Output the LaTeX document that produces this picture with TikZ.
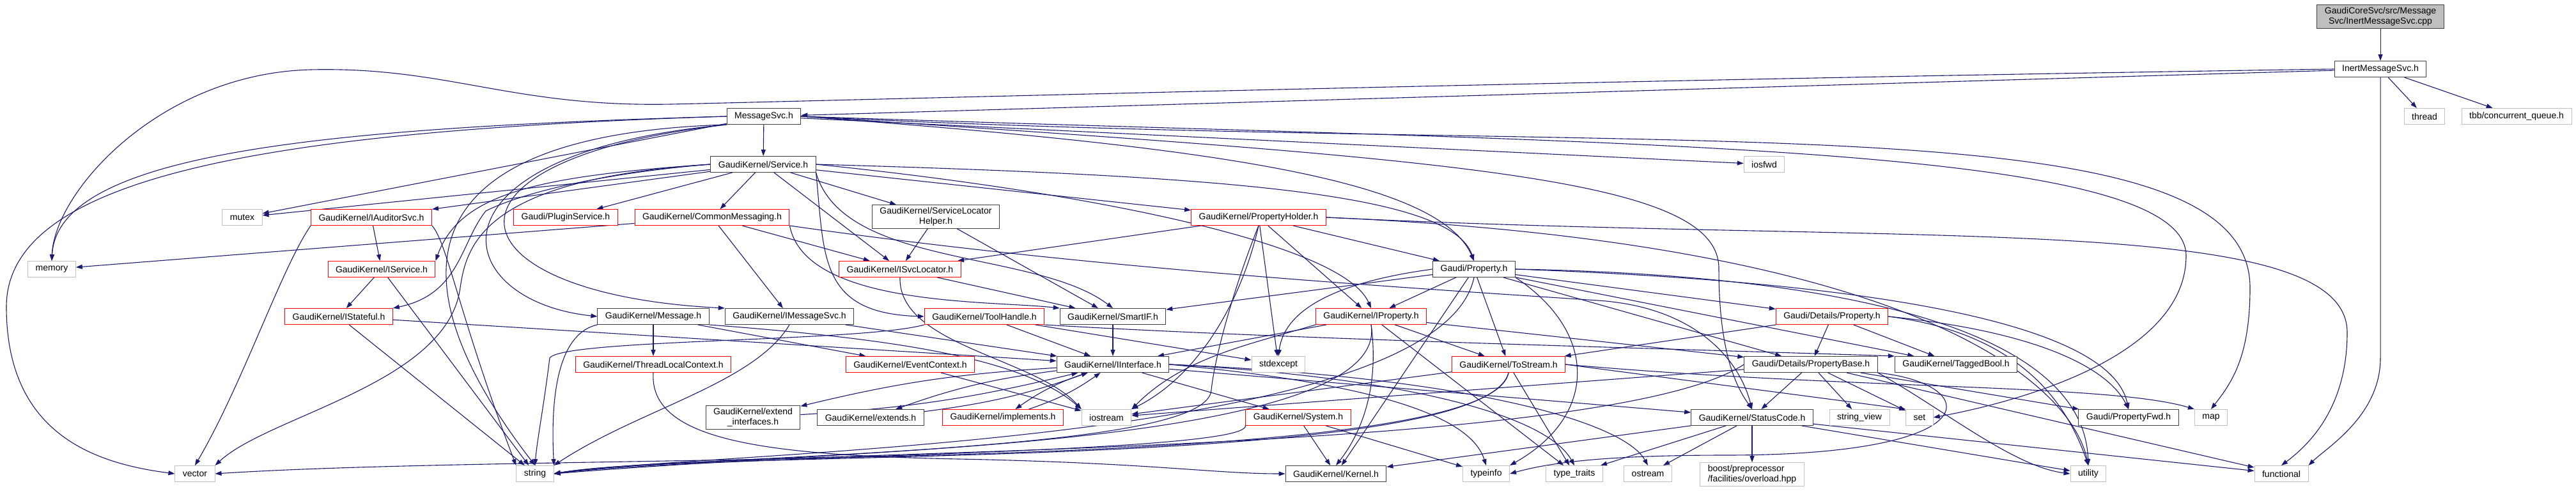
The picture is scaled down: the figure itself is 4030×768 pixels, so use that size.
\documentclass[tikz,border=0pt]{standalone}
\usepackage{fontspec}
\setmainfont{Liberation Sans}
\usetikzlibrary{arrows.meta,backgrounds}
\definecolor{dxblue}{HTML}{191970}
\definecolor{dxline}{HTML}{404040}
\definecolor{dxred}{HTML}{FF0000}
\definecolor{dxgray}{HTML}{BFBFBF}
\tikzset{
  hdr/.style={rectangle, draw=dxline, fill=white, line width=1pt, inner xsep=12pt, inner ysep=4pt,
    minimum height=25pt, font=\fontsize{14}{15.5}\selectfont, align=center},
  hdrtrunc/.style={hdr, draw=dxred},
  hdrsys/.style={hdr, draw=dxgray},
  hdrtop/.style={hdr, fill=dxgray},
  dep/.style={draw=dxblue, line width=1.1pt, -{Triangle[length=10pt,width=7pt]}},
}
\begin{document}
\begin{tikzpicture}[x=1pt,y=-1pt]
\useasboundingbox (0,0) rectangle (4030,768);
% top
\node[hdrtop] (cpp) at (3724,26) {GaudiCoreSvc/src/Message\\Svc/InertMessageSvc.cpp};
\node[hdr] (inert) at (3724,108) {InertMessageSvc.h};
\node[hdrsys] (thread) at (3793,182) {thread};
\node[hdrsys] (tbb) at (3937,182) {tbb/concurrent\_queue.h};
\node[hdr] (msgsvc) at (1195,182) {MessageSvc.h};
\node[hdr] (service) at (1194,257) {GaudiKernel/Service.h};
\node[hdrsys] (iosfwd) at (2760,257) {iosfwd};
% rank 4
\node[hdrsys] (mutex) at (379,340) {mutex};
\node[hdrtrunc] (iauditor) at (581,340) {GaudiKernel/IAuditorSvc.h};
\node[hdrtrunc] (plugin) at (885,340) {Gaudi/PluginService.h};
\node[hdrtrunc] (commonmsg) at (1114,340) {GaudiKernel/CommonMessaging.h};
\node[hdr] (svchelper) at (1464,339) {GaudiKernel/ServiceLocator\\Helper.h};
\node[hdrtrunc] (propholder) at (1969,340) {GaudiKernel/PropertyHolder.h};
% rank 5
\node[hdrsys] (memory) at (81,421) {memory};
\node[hdrtrunc] (iservice) at (597,421) {GaudiKernel/IService.h};
\node[hdrtrunc] (isvcloc) at (1408,421) {GaudiKernel/ISvcLocator.h};
\node[hdr] (prop) at (2306,421) {Gaudi/Property.h};
% rank 6
\node[hdrtrunc] (istateful) at (530,495) {GaudiKernel/IStateful.h};
\node[hdr] (message) at (1022,495) {GaudiKernel/Message.h};
\node[hdr] (imsgsvc) at (1235,495) {GaudiKernel/IMessageSvc.h};
\node[hdrtrunc] (toolhandle) at (1540,495) {GaudiKernel/ToolHandle.h};
\node[hdr] (smartif) at (1741,495) {GaudiKernel/SmartIF.h};
\node[hdrtrunc] (iproperty) at (2145,495) {GaudiKernel/IProperty.h};
\node[hdrtrunc] (detprop) at (2866,495) {Gaudi/Details/Property.h};
% rank 7
\node[hdrtrunc] (tlc) at (1022,570) {GaudiKernel/ThreadLocalContext.h};
\node[hdrtrunc] (evtctx) at (1424,570) {GaudiKernel/EventContext.h};
\node[hdr] (iinterface) at (1741,570) {GaudiKernel/IInterface.h};
\node[hdrsys] (stdexcept) at (2000,570) {stdexcept};
\node[hdrtrunc] (tostream) at (2360,570) {GaudiKernel/ToStream.h};
\node[hdr] (propbase) at (2833,570) {Gaudi/Details/PropertyBase.h};
\node[hdr] (taggedbool) at (3060,570) {GaudiKernel/TaggedBool.h};
% rank 8
\node[hdr] (extendif) at (1178,653) {GaudiKernel/extend\\\_interfaces.h};
\node[hdr] (extends) at (1362,653) {GaudiKernel/extends.h};
\node[hdrtrunc] (implements) at (1569,653) {GaudiKernel/implements.h};
\node[hdrsys] (iostream) at (1731,653) {iostream};
\node[hdrtrunc] (system) at (2031,653) {GaudiKernel/System.h};
\node[hdr] (statuscode) at (2741,653) {GaudiKernel/StatusCode.h};
\node[hdrsys] (stringview) at (2909,653) {string\_view};
\node[hdrsys] (set) at (3003,653) {set};
\node[hdr] (propfwd) at (3330,653) {Gaudi/PropertyFwd.h};
\node[hdrsys] (map) at (3459,653) {map};
% bottom
\node[hdrsys] (vector) at (305,741) {vector};
\node[hdrsys] (string) at (837,741) {string};
\node[hdr] (kernel) at (2090,741) {GaudiKernel/Kernel.h};
\node[hdrsys] (typeinfo) at (2325,741) {typeinfo};
\node[hdrsys] (typetraits) at (2463,741) {type\_traits};
\node[hdrsys] (ostream) at (2578,741) {ostream};
\node[hdrsys, align=left] (boost) at (2741,742) {boost/preprocessor\\/facilities/overload.hpp};
\node[hdrsys] (utility) at (3267,741) {utility};
\node[hdrsys] (functional) at (3569,741) {functional};

\begin{scope}[on background layer]
\draw[dep] (cpp) -- (inert);
\draw[dep] (inert) -- (thread);
\draw[dep] (inert) -- (tbb);
\draw[dep] (inert.south) -- (3724,560) .. controls (3724,650) and (3640,700) .. (functional.north east);
\draw[dep] (inert) -- (msgsvc);
\draw[dep] (inert.west) .. controls (2500,125) and (1400,155) .. (1050,163) .. controls (800,168) and (700,104) .. (486,109) .. controls (250,115) and (85,300) .. (memory.north);
% MessageSvc.h
\draw[dep] (msgsvc) -- (service);
\draw[dep] (msgsvc) -- (iosfwd);
\draw[dep] (msgsvc) -- (mutex);
\draw[dep] (msgsvc.west) .. controls (500,200) and (90,240) .. (memory.north);
\draw[dep] (msgsvc.west) .. controls (400,205) and (10,280) .. (10,480) .. controls (10,680) and (150,725) .. (vector.west);
\draw[dep] (msgsvc.south west) .. controls (650,210) and (600,420) .. (string.north);
\draw[dep] (msgsvc.south west) .. controls (650,240) and (700,470) .. (message.west);
\draw[dep] (msgsvc.south west) .. controls (650,250) and (700,460) .. (imsgsvc.north west);
\draw[dep] (msgsvc.east) .. controls (1900,230) and (2250,280) .. (prop.north);
\draw[dep] (msgsvc.east) .. controls (2600,250) and (3520,150) .. (3520,450) .. controls (3520,560) and (3490,600) .. (map.north);
\draw[dep] (msgsvc.east) .. controls (2500,225) and (3420,220) .. (3420,400) .. controls (3420,560) and (3150,630) .. (set.east);
\draw[dep] (msgsvc.east) .. controls (2300,250) and (2689,280) .. (2689,420) .. controls (2689,560) and (2720,610) .. (statuscode.north);
% Service.h
\draw[dep] (service) -- (mutex);
\draw[dep] (service) -- (iauditor);
\draw[dep] (service) -- (plugin);
\draw[dep] (service) -- (commonmsg);
\draw[dep] (service) -- (svchelper);
\draw[dep] (service) -- (propholder);
\draw[dep] (service) -- (isvcloc);
\draw[dep] (service.south east) .. controls (1320,420) and (1620,390) .. (smartif.north);
\draw[dep] (service.south east) .. controls (1290,400) and (1280,490) .. (toolhandle.west);
\draw[dep] (service.east) .. controls (1700,300) and (2100,380) .. (iproperty.north);
\draw[dep] (service.east) .. controls (1900,275) and (2270,300) .. (prop.north);
\draw[dep] (service.west) .. controls (850,275) and (720,300) .. (iservice.north east);
\draw[dep] (service.west) .. controls (950,270) and (820,300) .. (760,330) .. controls (720,380) and (720,460) .. (istateful.north east);
\draw[dep] (service.west) .. controls (760,280) and (730,380) .. (720,450) .. controls (700,600) and (420,650) .. (vector.north east);
% CommonMessaging.h
\draw[dep] (commonmsg) -- (memory);
\draw[dep] (commonmsg) -- (imsgsvc);
\draw[dep] (commonmsg) -- (isvcloc);
\draw[dep] (commonmsg.south east) .. controls (1260,480) and (1550,470) .. (smartif.north west);
\draw[dep] (commonmsg.south east) .. controls (1700,420) and (2200,450) .. (2500,470) .. controls (2650,480) and (2720,560) .. (statuscode.north);
\draw[dep] (iauditor) -- (iservice);
\draw[dep] (iauditor.south east) .. controls (700,380) and (720,500) .. (string.north west);
\draw[dep] (iauditor.south west) .. controls (440,420) and (380,600) .. (vector.north);
\draw[dep] (svchelper) -- (isvcloc);
\draw[dep] (svchelper) -- (smartif);
% PropertyHolder.h
\draw[dep] (propholder) -- (prop);
\draw[dep] (propholder) -- (iproperty);
\draw[dep] (propholder) -- (isvcloc);
\draw[dep] (propholder) -- (stdexcept);
\draw[dep] (propholder.south) .. controls (1940,480) and (1870,590) .. (iostream.north east);
\draw[dep] (propholder.south) .. controls (1930,450) and (1900,560) .. (1895,610) .. controls (1890,700) and (1300,705) .. (string.east);
\draw[dep] (propholder.east) .. controls (3000,380) and (3240,600) .. (utility.north);
\draw[dep] (propholder.east) .. controls (3000,385) and (3672,330) .. (3672,520) .. controls (3672,630) and (3620,690) .. (functional.north);
\draw[dep] (iservice) -- (istateful);
\draw[dep] (iservice) -- (string);
\draw[dep] (istateful) -- (iinterface);
\draw[dep] (istateful) -- (string);
\draw[dep] (isvcloc) -- (smartif);
\draw[dep] (isvcloc.south) .. controls (1405,540) and (1620,560) .. (iostream.north west);
% Gaudi/Property.h
\draw[dep] (prop) -- (detprop);
\draw[dep] (prop) -- (propbase);
\draw[dep] (prop) -- (iproperty);
\draw[dep] (prop) -- (smartif);
\draw[dep] (prop) -- (taggedbool);
\draw[dep] (prop) -- (tostream);
\draw[dep] (prop) -- (kernel);
\draw[dep] (prop.east) .. controls (2900,440) and (3300,500) .. (propfwd.north);
\draw[dep] (prop.west) .. controls (2100,440) and (2010,480) .. (stdexcept.north);
\draw[dep] (prop.south east) .. controls (2500,520) and (2500,650) .. (typeinfo.north east);
\draw[dep] (prop.east) .. controls (2900,430) and (3260,520) .. (utility.north);
\draw[dep] (prop.south) .. controls (2250,700) and (1100,705) .. (string.east);
\draw[dep] (message) -- (tlc);
\draw[dep] (message) -- (evtctx);
\draw[dep] (message.south east) .. controls (1400,530) and (1600,560) .. (iostream.north west);
\draw[dep] (message.south west) .. controls (880,520) and (860,600) .. (string.north east);
\draw[dep] (imsgsvc) -- (iinterface);
\draw[dep] (imsgsvc.south) .. controls (1180,600) and (1000,640) .. (string.north east);
\draw[dep] (toolhandle) -- (stdexcept);
\draw[dep] (toolhandle) -- (iinterface);
\draw[dep] (toolhandle.south east) .. controls (2000,530) and (2600,545) .. (taggedbool.north west);
\draw[dep] (toolhandle.south west) .. controls (1350,535) and (880,530) .. (860,560) .. controls (850,640) and (840,690) .. (string.north);
\draw[dep] (smartif) -- (iinterface);
% IProperty.h
\draw[dep] (iproperty) -- (iinterface);
\draw[dep] (iproperty) -- (tostream);
\draw[dep] (iproperty) -- (propbase);
\draw[dep] (iproperty) -- (typetraits);
\draw[dep] (iproperty.south) .. controls (2160,620) and (2120,690) .. (kernel.north);
\draw[dep] (iproperty.south west) .. controls (1950,540) and (1850,560) .. (iostream.north east);
\draw[dep] (iproperty.south) .. controls (2180,720) and (1100,705) .. (string.east);
\draw[dep] (detprop) -- (propbase);
\draw[dep] (detprop) -- (taggedbool);
\draw[dep] (detprop) -- (tostream);
\draw[dep] (detprop.east) .. controls (3200,520) and (3300,580) .. (propfwd.north);
\draw[dep] (detprop.east) .. controls (3150,520) and (3230,620) .. (utility.north);
\draw[dep] (tlc.south) .. controls (1015,690) and (1200,712) .. (1500,718) .. controls (1800,724) and (1900,741) .. (kernel.west);
\draw[dep] (evtctx) -- (iostream);
% IInterface.h
\draw[dep] (iinterface) to[bend right=5] (extendif);
\draw[dep] (extendif) to[bend right=5] (iinterface);
\draw[dep] (iinterface) to[bend right=6] (extends);
\draw[dep] (extends) to[bend right=6] (iinterface);
\draw[dep] (iinterface) to[bend right=8] (implements);
\draw[dep] (implements) to[bend right=8] (iinterface);
\draw[dep] (iinterface) -- (system);
\draw[dep] (iinterface) -- (statuscode);
\draw[dep] (iinterface.east) .. controls (2150,600) and (2300,650) .. (typeinfo.north);
\draw[dep] (iinterface.east) .. controls (2200,590) and (2420,650) .. (typetraits.north);
\draw[dep] (iinterface.east) .. controls (2300,590) and (2540,660) .. (ostream.north);
% ToStream.h
\draw[dep] (tostream) -- (iostream);
\draw[dep] (tostream) -- (typetraits);
\draw[dep] (tostream.east) .. controls (2900,610) and (3300,600) .. (map.north west);
\draw[dep] (tostream.east) -- (set.north west);
\draw[dep] (tostream.south) .. controls (2320,740) and (1100,700) .. (string.east);
\draw[dep] (tostream.south) .. controls (2330,745) and (900,705) .. (vector.east);
% PropertyBase.h
\draw[dep] (propbase) -- (statuscode);
\draw[dep] (propbase) -- (stringview);
\draw[dep] (propbase) -- (set);
\draw[dep] (propbase) -- (propfwd);
\draw[dep] (propbase) -- (iostream);
\draw[dep] (propbase) -- (functional);
\draw[dep] (propbase.south east) .. controls (3040,640) and (3150,730) .. (utility.west);
\draw[dep] (propbase.south east) .. controls (3100,600) and (3120,712) .. (2700,712) .. controls (2500,712) and (2420,725) .. (typeinfo.east);
\draw[dep] (propbase.west) .. controls (2500,720) and (1100,700) .. (string.east);
\draw[dep] (system) -- (kernel);
\draw[dep] (system) -- (typeinfo);
\draw[dep] (system.south west) .. controls (1950,710) and (1100,712) .. (string.east);
% StatusCode.h
\draw[dep] (statuscode) -- (boost);
\draw[dep] (statuscode) -- (kernel);
\draw[dep] (statuscode) -- (ostream);
\draw[dep] (statuscode) -- (typetraits);
\draw[dep] (statuscode) -- (utility);
\draw[dep] (statuscode) -- (functional);
\end{scope}
\end{tikzpicture}
\end{document}
